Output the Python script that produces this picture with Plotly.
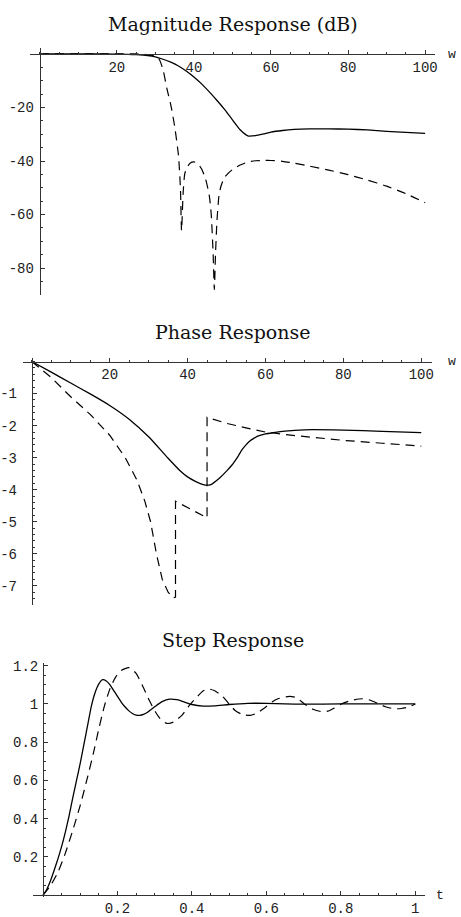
import plotly.graph_objects as go

# ---------------- data ----------------
mag_w_solid = [0, 10, 20, 25, 28, 30, 32, 34, 36, 38, 40, 42, 44, 46, 48, 50, 52, 54, 56, 58, 60, 63, 66, 70, 75, 80, 85, 90, 95, 100]
mag_db_solid = [0, 0, -0.1, -0.3, -0.6, -1.1, -2.0, -3.1, -4.5, -6.4, -8.6, -11.2, -14.2, -17.4, -20.8, -24.6, -28.3, -30.6, -30.5, -29.9, -29.2, -28.6, -28.2, -28.0, -28.0, -28.1, -28.4, -28.9, -29.3, -29.7]

mag_w_dash = [0, 10, 20, 25, 28, 30, 31, 32, 33, 34, 35, 36, 36.5, 36.8, 37.2, 37.6, 38, 39, 40, 41, 42, 43, 44, 44.5, 45, 45.3, 45.6, 46, 46.5, 47, 48, 50, 52, 54, 56, 58, 60, 63, 66, 70, 75, 80, 85, 90, 95, 100]
mag_db_dash = [0, 0, 0, 0, -0.3, -0.8, -2, -6, -13, -19, -27, -38, -50, -66, -52, -45, -43, -40.8, -40.3, -41, -43, -46.5, -53, -60, -75, -88, -75, -62, -53, -49.5, -46, -43.2, -41.5, -40.4, -39.9, -39.8, -39.8, -40.1, -40.8, -41.9, -43.4, -45.1, -47.1, -49.4, -52.2, -55.6]

ph_w_solid = [0, 5, 10, 15, 20, 25, 30, 35, 38, 40, 42, 44, 45, 46, 48, 50, 51.4, 52, 53, 54, 55, 56, 57, 58, 60, 62, 65, 70, 80, 90, 100]
ph_solid = [0, -0.33, -0.67, -1.01, -1.37, -1.8, -2.35, -3.02, -3.4, -3.6, -3.74, -3.84, -3.86, -3.84, -3.66, -3.42, -3.23, -3.13, -2.95, -2.75, -2.6, -2.48, -2.4, -2.33, -2.26, -2.22, -2.17, -2.13, -2.14, -2.18, -2.22]

ph_w_dash = [0, 5, 10, 15, 20, 24, 27, 29, 30.5, 32, 33.5, 35, 36.3, 36.9, 36.9, 45, 45, 50, 55, 60, 65, 70, 80, 90, 100]
ph_dash = [0, -0.5, -1.1, -1.65, -2.3, -3.0, -3.7, -4.35, -5.0, -6.0, -6.8, -7.2, -7.38, -7.35, -4.36, -4.88, -1.74, -1.93, -2.07, -2.2, -2.28, -2.34, -2.46, -2.55, -2.64]

st_t_solid = [0, 0.01, 0.02, 0.03, 0.04, 0.05, 0.06, 0.07, 0.08, 0.09, 0.1, 0.11, 0.12, 0.13, 0.14, 0.15, 0.16, 0.17, 0.18, 0.19, 0.2, 0.21, 0.22, 0.23, 0.24, 0.25, 0.26, 0.27, 0.28, 0.3, 0.32, 0.34, 0.36, 0.38, 0.4, 0.43, 0.46, 0.5, 0.55, 0.6, 0.65, 0.7, 0.8, 0.9, 1.0]
st_solid = [0, 0.03, 0.075, 0.13, 0.19, 0.255, 0.33, 0.415, 0.51, 0.6, 0.69, 0.79, 0.89, 0.99, 1.06, 1.105, 1.127, 1.12, 1.1, 1.07, 1.04, 1.01, 0.985, 0.965, 0.95, 0.942, 0.94, 0.945, 0.955, 0.985, 1.012, 1.025, 1.022, 1.01, 0.997, 0.989, 0.99, 0.997, 1.003, 1.003, 1.0, 0.999, 1.0, 1.0, 1.0]

st_t_dash = [0, 0.02, 0.04, 0.06, 0.08, 0.1, 0.12, 0.135, 0.15, 0.165, 0.18, 0.195, 0.21, 0.231, 0.25, 0.267, 0.285, 0.302, 0.318, 0.333, 0.35, 0.373, 0.39, 0.409, 0.43, 0.445, 0.46, 0.48, 0.5, 0.516, 0.535, 0.556, 0.575, 0.596, 0.615, 0.631, 0.662, 0.68, 0.702, 0.725, 0.747, 0.765, 0.782, 0.8, 0.827, 0.858, 0.875, 0.898, 0.92, 0.942, 0.962, 0.982, 1.0]
st_dash = [0, 0.05, 0.12, 0.22, 0.34, 0.47, 0.62, 0.74, 0.87, 0.99, 1.08, 1.14, 1.175, 1.19, 1.16, 1.096, 1.02, 0.958, 0.915, 0.898, 0.905, 0.94, 0.985, 1.027, 1.068, 1.078, 1.07, 1.044, 1.0, 0.966, 0.945, 0.94, 0.952, 0.98, 1.01, 1.027, 1.04, 1.033, 1.0, 0.972, 0.96, 0.962, 0.978, 0.998, 1.018, 1.027, 1.022, 1.004, 0.985, 0.975, 0.976, 0.984, 1.0]

titles = ["Magnitude Response (dB)", "Phase Response", "Step Response"]
axis_names = ["w", "w", "t"]

w_ticks = [20, 40, 60, 80, 100]
mag_ticks = [-20, -40, -60, -80]
ph_ticks = [-1, -2, -3, -4, -5, -6, -7]
t_ticks = [0.2, 0.4, 0.6, 0.8, 1]
st_ticks = [0.2, 0.4, 0.6, 0.8, 1, 1.2]

# ---------------- layout helpers ----------------
W, H = 461, 917


def px(x):
    return x / W


def py(y):
    return 1 - y / H


fig = go.Figure()

TICKFONT = dict(family="Liberation Mono", size=14, color="#222")
AXCOL = "#333"

panels = [
    dict(xd=(30, 438), yd=(45, 295), xr=(-2.58, 102.6), yr=(-90.2, 2.03), ty=20, lab=(455, 51),
         xt=w_ticks, xtt=[str(v) for v in w_ticks], yt=mag_ticks, ytt=[str(v) for v in mag_ticks],
         xminor=5, yminor=5, ystand=3),
    dict(xd=(22.7, 435), yd=(358, 608.3), xr=(-2.37, 102.8), yr=(-7.6, 0.12), ty=332, lab=(455, 362),
         xt=w_ticks, xtt=[str(v) for v in w_ticks], yt=ph_ticks, ytt=[str(v) for v in ph_ticks],
         xminor=5, yminor=0.2, ystand=12),
    dict(xd=(33, 428), yd=(667, 904), xr=(-0.0275, 1.0267), yr=(-0.0103, 1.214), ty=644, lab=(443, 902),
         xt=t_ticks, xtt=[("%g" % v) for v in t_ticks], yt=st_ticks, ytt=[("%g" % v) for v in st_ticks],
         xminor=0.05, yminor=0.05, ystand=2),
]

series = [
    (mag_w_solid, mag_db_solid, mag_w_dash, mag_db_dash, "spline", "spline"),
    (ph_w_solid, ph_solid, ph_w_dash, ph_dash, "spline", "linear"),
    (st_t_solid, st_solid, st_t_dash, st_dash, "spline", "spline"),
]

for i, (p, s) in enumerate(zip(panels, series), start=1):
    xa = "x" if i == 1 else f"x{i}"
    ya = "y" if i == 1 else f"y{i}"
    xs, ys, xd_, yd_, shs, shd = s
    fig.add_trace(go.Scatter(x=xs, y=ys, mode="lines", xaxis=xa, yaxis=ya,
                             line=dict(color="black", width=1.3, shape=shs, smoothing=0.6),
                             showlegend=False, hoverinfo="skip"))
    fig.add_trace(go.Scatter(x=xd_, y=yd_, mode="lines", xaxis=xa, yaxis=ya,
                             line=dict(color="black", width=1.2, dash="9px,6px", shape=shd, smoothing=0.6),
                             showlegend=False, hoverinfo="skip"))

    ydom = [py(p["yd"][1]), py(p["yd"][0])]
    xdom = [px(p["xd"][0]), px(p["xd"][1])]
    y0, y1 = p["yr"]
    x0, x1 = p["xr"]
    xpos = ydom[0] + (0 - y0) / (y1 - y0) * (ydom[1] - ydom[0])
    ypos = xdom[0] + (0 - x0) / (x1 - x0) * (xdom[1] - xdom[0])

    xkey = "xaxis" if i == 1 else f"xaxis{i}"
    ykey = "yaxis" if i == 1 else f"yaxis{i}"
    fig.update_layout(**{
        xkey: dict(domain=xdom, range=list(p["xr"]), anchor="free", position=xpos, side="bottom",
                   showgrid=False, zeroline=False, showline=True, linecolor=AXCOL, linewidth=1,
                   ticks="inside", ticklen=4, tickcolor=AXCOL, tickwidth=1,
                   tickvals=p["xt"], ticktext=p["xtt"], tickfont=TICKFONT,
                   minor=dict(ticks="inside", ticklen=2, tickcolor=AXCOL, dtick=p["xminor"], tick0=0, showgrid=False),
                   fixedrange=True),
        ykey: dict(domain=ydom, range=list(p["yr"]), anchor="free", position=ypos, side="left",
                   showgrid=False, zeroline=False, showline=True, linecolor=AXCOL, linewidth=1,
                   ticks="inside", ticklen=4, tickcolor=AXCOL, tickwidth=1,
                   tickvals=p["yt"], ticktext=p["ytt"], tickfont=TICKFONT, ticklabelstandoff=p["ystand"],
                   minor=dict(ticks="inside", ticklen=2, tickcolor=AXCOL, dtick=p["yminor"], tick0=0, showgrid=False),
                   fixedrange=True),
    })

    fig.add_annotation(text=titles[i - 1], xref="paper", yref="paper", x=px(235), y=py(p["ty"]),
                       xanchor="center", yanchor="middle", showarrow=False,
                       font=dict(family="DejaVu Serif", size=19, color="#111"))
    fig.add_annotation(text=axis_names[i - 1], xref="paper", yref="paper", x=px(p["lab"][0]), y=py(p["lab"][1]),
                       xanchor="center", yanchor="middle", showarrow=False,
                       font=dict(family="Liberation Mono", size=13, color="#222"))

fig.update_layout(width=W, height=H, margin=dict(l=0, r=0, t=0, b=0),
                  paper_bgcolor="white", plot_bgcolor="white", showlegend=False)

fig.write_html("out.html", config={"displayModeBar": False},
               post_script="document.body.style.margin='0';document.body.style.overflow='hidden';")
